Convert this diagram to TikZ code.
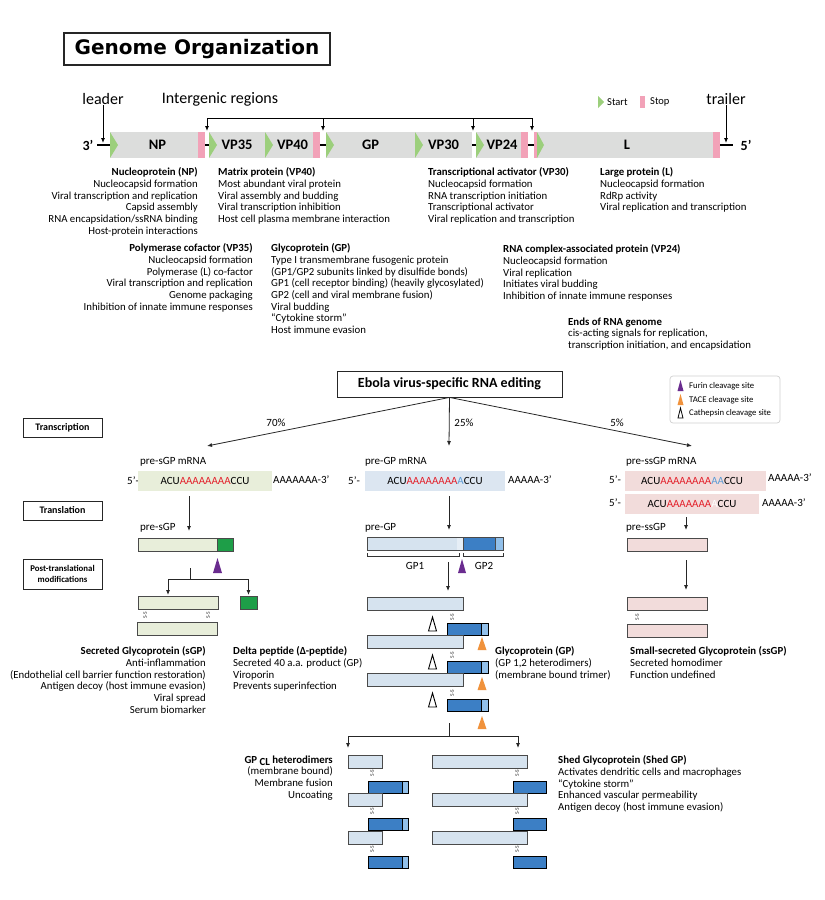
\documentclass[tikz,border=0pt]{standalone}
\usepackage{fontspec}
\setmainfont{Carlito}
\newfontfamily\titlefont{DejaVu Sans}
\usetikzlibrary{arrows.meta}
\definecolor{genegray}{HTML}{DCDDDC}
\definecolor{startgreen}{HTML}{9CCF7C}
\definecolor{stoppink}{HTML}{F2A2B8}
\definecolor{sgpfill}{HTML}{E8EEDA}
\definecolor{darkgreen}{HTML}{1E9E48}
\definecolor{gpfill}{HTML}{DCE6F1}
\definecolor{gplight}{HTML}{D6E3EF}
\definecolor{gppale}{HTML}{E6EEF6}
\definecolor{gpdark}{HTML}{3C7FC5}
\definecolor{gptip}{HTML}{92C0EA}
\definecolor{ssfill}{HTML}{F2DCDB}
\definecolor{rnared}{HTML}{E3202A}
\definecolor{rnablue}{HTML}{5B9BD5}
\definecolor{furin}{HTML}{6A2C8F}
\definecolor{tace}{HTML}{F0923C}
\definecolor{barline}{HTML}{4A4A4A}
\definecolor{legline}{HTML}{D0D0D0}
\newcommand\mylbar[5]{\node[pbar, fill=#5, minimum width=#4pt] (#1) at (#2,#3) {};}
\newcommand\mydbar[5]{\node[pbar, draw=black, fill=gpdark, minimum width=#4pt, minimum height=12.5pt] (#1) at (#2,#3) {};
  \ifdim#5pt>0pt \filldraw[fill=gptip, draw=black, line width=0.9pt] ([xshift=-#5pt]#1.north east) rectangle (#1.south east);\fi}
\newcommand\mysslab[2]{\node[sstxt] at (#1,#2) {S-S};}
\newcommand\mytri[4]{\filldraw[fill=#3, draw=#4, line width=0.9pt] (#1-4,#2+14) -- (#1,#2) -- (#1+4,#2+14) -- cycle;}
\begin{document}
\begin{tikzpicture}[x=1pt,y=-1pt,
  arr/.style={-{Latex[length=5pt,width=4pt]}, line width=0.8pt, draw=black!85},
  garr/.style={-{Latex[length=5pt,width=4pt]}, line width=0.9pt, draw=black},
  gene/.style={fill=genegray, minimum height=26pt, inner sep=0pt, outer sep=0pt, font=\bfseries\fontsize{14.5}{16}\selectfont},
  txt/.style={inner sep=0pt, font=\fontsize{10.8}{11.7}\selectfont},
  lt/.style={txt, align=left, anchor=north west},
  rt/.style={txt, align=right, anchor=north east},
  big/.style={inner sep=0pt, font=\fontsize{16}{18}\selectfont},
  lab/.style={inner sep=0pt, font=\fontsize{11}{13}\selectfont},
  labw/.style={lab, anchor=west},
  stagebox/.style={draw=black!85, line width=0.8pt, minimum width=79pt, inner sep=0pt, font=\bfseries\fontsize{10}{11}\selectfont},
  legtxt/.style={inner sep=0pt, anchor=west, font=\fontsize{8.7}{10}\selectfont},
  pbar/.style={draw=barline, line width=0.9pt, inner sep=0pt, outer sep=0pt, minimum height=13pt, anchor=north west},
  mrna/.style={inner sep=0pt, minimum height=20pt, font=\fontsize{11}{13}\selectfont},
  sstxt/.style={inner sep=0pt, rotate=90, font=\fontsize{5.5}{6}\selectfont, text=black!80}
]
\useasboundingbox (0,0) rectangle (825,900);
\fill[white] (0,0) rectangle (825,900);

% ---------- title
\node[draw=black!85, line width=1.3pt, minimum width=266pt, minimum height=32pt, inner sep=0pt,
  font=\titlefont\bfseries\fontsize{20}{24}\selectfont] (title) at (197,49) {Genome Organization};

% ---------- genome
\coordinate (g3) at (97,145);
\coordinate (g5) at (733,145);
\draw[line width=1.3pt] (g3) -- (g5);
\node[gene, minimum width=95pt] (NP) at (157.5,145) {NP};
\node[gene, minimum width=56pt] (VP35) at (237,145) {VP35};
\node[gene, minimum width=55pt] (VP40) at (292.5,145) {VP40};
\node[gene, minimum width=89pt] (GP) at (370.5,145) {GP};
\node[gene, minimum width=57pt] (VP30) at (443.5,145) {VP30};
\node[gene, minimum width=52pt] (VP24) at (502,145) {VP24};
\node[gene, minimum width=186pt] (L) at (627,145) {L};
\foreach \g in {NP,VP35,VP40,GP,VP30,VP24}
  \fill[startgreen] (\g.north west) -- ([xshift=8pt]\g.west) -- (\g.south west) -- cycle;
\foreach \g in {NP,VP40,VP24,L}
  \fill[stoppink] (\g.north east) rectangle ([xshift=-7pt]\g.south east);
\fill[stoppink] (L.north west) rectangle ([xshift=3pt]L.south west);
\fill[startgreen] ([xshift=3pt]L.north west) -- ([xshift=10pt]L.west) -- ([xshift=3pt]L.south west) -- cycle;
\node[inner sep=0pt, font=\bfseries\fontsize{14}{16}\selectfont] (three) at (88,145) {3’};
\node[inner sep=0pt, font=\bfseries\fontsize{14}{16}\selectfont] (five) at (746,145) {5’};

\node[big] (leader) at (103,99) {leader};
\coordinate (leadtip) at (103,143);
\draw[garr] (leader.south) -- (leadtip);
\node[big] (trailer) at (726,99) {trailer};
\coordinate (trailtip) at (726,143);
\draw[garr] (trailer.south) -- (trailtip);
\node[big] (igr) at (220,99) {Intergenic regions};
\coordinate (ib1) at (207,118);
\coordinate (ib2) at (323,118);
\coordinate (ib3) at (473,118);
\coordinate (ib4) at (532,118);
\draw[line width=0.9pt] (ib1) -- (ib4);
\foreach \c in {ib1,ib2,ib3,ib4} \draw[garr] (\c) -- ++(0,13);

\fill[startgreen] (598,96) -- (604,102) -- (598,108) -- cycle;
\node[inner sep=0pt, anchor=west, font=\fontsize{10.5}{12}\selectfont] (start) at (607,102) {Start};
\fill[stoppink] (640,96) rectangle (644.5,108);
\node[inner sep=0pt, anchor=west, font=\fontsize{10.5}{12}\selectfont] (stop) at (650,102) {Stop};

% ---------- gene descriptions
\node[rt] (tNP) at (198,167.5) {\textbf{Nucleoprotein (NP)}\\Nucleocapsid formation\\Viral transcription and replication\\Capsid assembly\\RNA encapsidation/ssRNA binding\\Host-protein interactions};
\node[lt] (tVP40) at (218,167.5) {\textbf{Matrix protein (VP40)}\\Most abundant viral protein\\Viral assembly and budding\\Viral transcription inhibition\\Host cell plasma membrane interaction};
\node[rt] (tVP35) at (253,243.5) {\textbf{Polymerase cofactor (VP35)}\\Nucleocapsid formation\\Polymerase (L) co-factor\\Viral transcription and replication\\Genome packaging\\Inhibition of innate immune responses};
\node[lt] (tGP) at (271,243.5) {\textbf{Glycoprotein (GP)}\\Type I transmembrane fusogenic protein\\(GP1/GP2 subunits linked by disulfide bonds)\\GP1 (cell receptor binding) (heavily glycosylated)\\GP2 (cell and viral membrane fusion)\\Viral budding\\“Cytokine storm”\\Host immune evasion};
\node[lt] (tVP30) at (428,167.5) {\textbf{Transcriptional activator (VP30)}\\Nucleocapsid formation\\RNA transcription initiation\\Transcriptional activator\\Viral replication and transcription};
\node[lt] (tL) at (600,167.5) {\textbf{Large protein (L)}\\Nucleocapsid formation\\RdRp activity\\Viral replication and transcription};
\node[lt] (tVP24) at (503,244.5) {\textbf{RNA complex-associated protein (VP24)}\\Nucleocapsid formation\\Viral replication\\Initiates viral budding\\Inhibition of innate immune responses};
\node[lt] (tEnds) at (568,317.5) {\textbf{Ends of RNA genome}\\cis-acting signals for replication,\\transcription initiation, and encapsidation};

% ---------- RNA editing
\node[draw=black!85, line width=0.8pt, minimum width=225pt, minimum height=26pt, inner sep=0pt,
  font=\bfseries\fontsize{14}{16}\selectfont] (edit) at (449.5,384) {Ebola virus-specific RNA editing};
\coordinate (e70) at (207,446);
\coordinate (e25) at (449,446);
\coordinate (e5) at (692,446);
\draw[arr] (edit.south) -- (e70);
\draw[arr] (edit.south) -- (e25);
\draw[arr] (edit.south) -- (e5);
\node[lab] (p70) at (276,423) {70\%};
\node[lab] (p25) at (464,423) {25\%};
\node[lab] (p5) at (617,423) {5\%};

\node[stagebox, minimum height=19pt] (sTr) at (62.5,427.5) {Transcription};
\node[stagebox, minimum height=19pt] (sTl) at (62.5,510.5) {Translation};
\node[stagebox, minimum height=30pt, align=center, font=\bfseries\fontsize{8.8}{10.5}\selectfont] (sPt) at (62.5,574) {Post-translational\\modifications};

% legend
\node[draw=legline, rounded corners=3pt, line width=0.7pt, minimum width=110pt, minimum height=47pt, inner sep=0pt] (leg) at (725,399.5) {};
\fill[furin] (677.5,391) -- (680.5,380) -- (683.5,391) -- cycle;
\node[legtxt] (lf) at (689,386) {Furin cleavage site};
\fill[tace] (677.5,405) -- (680.5,394) -- (683.5,405) -- cycle;
\node[legtxt] (lt2) at (689,400) {TACE cleavage site};
\filldraw[fill=white, draw=black, line width=0.8pt] (678,418) -- (680.5,408) -- (683,418) -- cycle;
\node[legtxt] (lc) at (689,413) {Cathepsin cleavage site};

% ---------- sGP column
\node[labw] (sgpmt) at (140,462) {pre-sGP mRNA};
\node[labw] (s5a) at (127,481) {5’-};
\node[mrna, fill=sgpfill, minimum width=134pt] (sgpm) at (205,481) {ACU\textcolor{rnared}{AAAAAAAA}CCU};
\node[labw] (s3a) at (273,480) {AAAAAAA-3’};
\node[labw] (presgpt) at (140,528) {pre-sGP};
\mylbar{presgp}{138}{538}{95}{sgpfill}
\filldraw[fill=darkgreen, draw=barline, line width=0.9pt] (217,538) rectangle (presgp.south east);
\draw[arr] ([xshift=-16pt,yshift=-5pt]sgpm.south) -- ([xshift=3.5pt,yshift=7pt]presgp.north);
\fill[furin] (213,573) -- (217.5,558) -- (222,573) -- cycle;
\coordinate (ssplit) at (190,568);
\coordinate (ssplitb) at (190,579);
\draw[line width=0.8pt, draw=black!85] (ssplit) -- (ssplitb);
\mylbar{sgpa}{138}{596}{80}{sgpfill}
\node[pbar, fill=darkgreen, minimum width=17pt] (delta) at (240,596) {};
\draw[arr] (ssplitb) -| ([xshift=30pt,yshift=1pt]sgpa.north west);
\draw[arr] (ssplitb) -| ([yshift=1pt]delta.north);
\mysslab{145}{615.5}
\mysslab{208}{615.5}
\mylbar{sgpb}{137}{622}{80}{sgpfill}

\node[rt] (tsGP) at (206,646.5) {\textbf{Secreted Glycoprotein (sGP)}\\Anti-inflammation\\(Endothelial cell barrier function restoration)\\Antigen decoy (host immune evasion)\\Viral spread\\Serum biomarker};
\node[lt] (tDelta) at (233,646.5) {\textbf{Delta peptide (Δ-peptide)}\\Secreted 40 a.a. product (GP)\\Viroporin\\Prevents superinfection};

% ---------- GP column
\node[labw] (gpmt) at (365,462) {pre-GP mRNA};
\node[labw] (g5a) at (348,481) {5’-};
\node[mrna, fill=gpfill, minimum width=140pt] (gpm) at (435,481) {ACU\textcolor{rnared}{AAAAAAAA}\textcolor{rnablue}{A}CCU};
\node[labw] (g3a) at (508,480) {AAAAA-3’};
\node[labw] (pregpt) at (365,528) {pre-GP};
\mylbar{pregp}{367}{537}{136}{gplight}
\fill[gppale] (457,537) rectangle (463,550);
\fill[gpdark] (463,537) rectangle (495,550);
\fill[gptip] (495,537) rectangle (503,550);
\draw[draw=barline, line width=0.9pt] (463,537) -- (463,550);
\draw[draw=barline, line width=0.9pt] (495,537) -- (495,550);
\draw[draw=barline, line width=0.9pt] (pregp.north west) rectangle (pregp.south east);
\draw[arr] ([xshift=14pt,yshift=-5pt]gpm.south) -- ([xshift=14pt,yshift=7pt]pregp.north);
\draw[line width=0.7pt, draw=black!80] (367,553) -- (367,556) -- (459,556) -- (459,553);
\draw[line width=0.7pt, draw=black!80] (463,553) -- (463,556) -- (503,556) -- (503,553);
\node[lab] (gp1) at (415,566) {GP1};
\node[lab] (gp2) at (484,566) {GP2};
\fill[furin] (458,573) -- (462,559) -- (466,573) -- cycle;
\mylbar{gl1}{367}{597}{96}{gplight}
\draw[arr] ([xshift=81pt,yshift=-12pt]pregp.south west) -- ([xshift=81pt,yshift=6pt]gl1.north west);
\mydbar{gd1}{447}{623}{41}{7}
\mylbar{gl2}{367}{635}{96}{gplight}
\mydbar{gd2}{447}{661}{41}{7}
\mylbar{gl3}{367}{673}{96}{gplight}
\mydbar{gd3}{447}{699}{41}{7}
\mysslab{452}{617}
\mysslab{452}{655}
\mysslab{452}{693}
\mytri{432.5}{617}{white}{black}
\mytri{432.5}{655}{white}{black}
\mytri{432.5}{693}{white}{black}
\fill[tace] (477.5,650) -- (482,637) -- (486.5,650) -- cycle;
\fill[tace] (477.5,690) -- (482,677) -- (486.5,690) -- cycle;
\fill[tace] (477.5,729) -- (482,716) -- (486.5,729) -- cycle;

\node[lt] (tGP2) at (495,646.5) {\textbf{Glycoprotein (GP)}\\(GP 1,2 heterodimers)\\(membrane bound trimer)};

\coordinate (gsplit) at (449,723);
\coordinate (gsplitb) at (449,736);
\draw[line width=0.8pt, draw=black!85] (gsplit) -- (gsplitb);
\mylbar{cl1}{348}{755}{34}{gplight}
\mydbar{cd1}{368}{781}{40}{6}
\mylbar{cl2}{348}{793}{34}{gplight}
\mydbar{cd2}{368}{818}{40}{6}
\mylbar{cl3}{348}{831}{34}{gplight}
\mydbar{cd3}{368}{856}{40}{6}
\mysslab{372}{773}
\mysslab{372}{811.5}
\mysslab{372}{849.5}
\mylbar{sh1}{432}{755}{95}{gplight}
\mydbar{sd1}{513}{781}{33}{0}
\mylbar{sh2}{432}{793}{95}{gplight}
\mydbar{sd2}{513}{818}{33}{0}
\mylbar{sh3}{432}{831}{95}{gplight}
\mydbar{sd3}{513}{856}{33}{0}
\mysslab{517}{773}
\mysslab{517}{811.5}
\mysslab{517}{849.5}
\draw[arr] (gsplitb) -| ([yshift=7pt]cl1.north west);
\draw[arr] (gsplitb) -| ([xshift=86pt,yshift=7pt]sh1.north west);

\node[rt] (tCL) at (333,755.5) {\textbf{GP \raisebox{-2.5pt}{CL} heterodimers}\\(membrane bound)\\Membrane fusion\\Uncoating};
\node[lt] (tShed) at (558,755.5) {\textbf{Shed Glycoprotein (Shed GP)}\\Activates dendritic cells and macrophages\\“Cytokine storm”\\Enhanced vascular permeability\\Antigen decoy (host immune evasion)};

% ---------- ssGP column
\node[labw] (ssmt) at (626,462) {pre-ssGP mRNA};
\node[labw] (ss5a) at (609,480) {5’-};
\node[labw] (ss5b) at (609,503) {5’-};
\node[mrna, fill=ssfill, minimum width=141pt] (ssm1) at (695.5,481) {\hspace*{-7pt}ACU\textcolor{rnared}{AAAAAAAA}\textcolor{rnablue}{AA}CCU};
\node[mrna, fill=ssfill, minimum width=134pt] (ssm2) at (692,504) {ACU\textcolor{rnared}{AAAAAAA}\textcolor{white}{A}CCU};
\node[labw] (ss3a) at (768,478) {AAAAA-3’};
\node[labw] (ss3b) at (762,503) {AAAAA-3’};
\node[labw] (pressgpt) at (626,528) {pre-ssGP};
\mylbar{pressgp}{627}{538}{80}{ssfill}
\draw[arr] ([xshift=-6pt,yshift=-3pt]ssm2.south) -- ([xshift=59pt,yshift=8pt]pressgp.north west);
\mylbar{ssa}{627}{597}{80}{ssfill}
\draw[arr] ([xshift=59pt,yshift=-9pt]pressgp.south west) -- ([xshift=59pt,yshift=7pt]ssa.north west);
\mysslab{637}{617}
\mylbar{ssb}{627}{624}{80}{ssfill}
\node[lt] (tss) at (630,646.5) {\textbf{Small-secreted Glycoprotein (ssGP)}\\Secreted homodimer\\Function undefined};
\end{tikzpicture}
\end{document}
